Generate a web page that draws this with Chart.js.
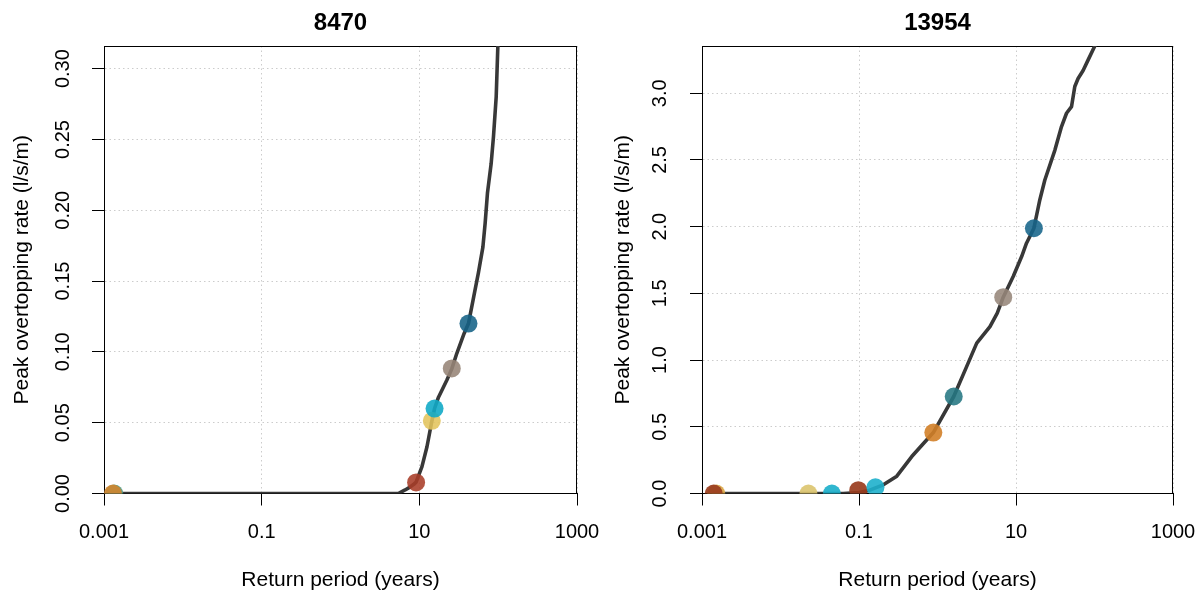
<!DOCTYPE html>
<html>
<head>
<meta charset="utf-8">
<script src="https://cdn.jsdelivr.net/npm/chart.js@4.4.1/dist/chart.umd.min.js"></script>
<style>
  html, body { margin: 0; padding: 0; background: #fff; width: 1203px; height: 597px; overflow: hidden; }
  canvas { position: absolute; top: 0; }
  #c1 { left: 0; }
  #c2 { left: 601px; }
</style>
</head>
<body>
<canvas id="c1" width="601" height="597"></canvas>
<canvas id="c2" width="602" height="597"></canvas>
<script>
// Return period axis (log scale)
const xTicks = [0.001, 0.1, 10, 1000];
const xTickLabels = ['0.001', '0.1', '10', '1000'];

// Site 8470
const title8470 = '8470';
const yTicks8470 = [0, 0.05, 0.10, 0.15, 0.20, 0.25, 0.30];
const curveX8470 = [0.0012, 5.4, 6.6, 7.6, 8.5, 9.1, 10.8, 12.5, 14.4, 15.6, 17.5, 22.3, 25.8, 29.9, 37, 42, 49, 56.2, 64.0, 68.4, 73.1, 81.5, 87.2, 94.4, 99.1, 104];
const curveY8470 = [0, 0, 0.0025, 0.0045, 0.0065, 0.008, 0.019, 0.033, 0.051, 0.060, 0.068, 0.080, 0.088, 0.099, 0.113, 0.120, 0.139, 0.156, 0.174, 0.191, 0.212, 0.233, 0.252, 0.280, 0.316, 0.36];
const eventX8470 = [0.00135, 0.0013, 9.1, 14.4, 15.6, 25.8, 42.0];
const eventY8470 = [0, 0, 0.0078, 0.0513, 0.060, 0.0883, 0.120];

// Site 13954
const title13954 = '13954';
const yTicks13954 = [0, 0.5, 1.0, 1.5, 2.0, 2.5, 3.0];
const curveX13954 = [0.0014, 0.063, 0.1, 0.13, 0.162, 0.204, 0.303, 0.47, 0.885, 1.61, 2.35, 3.16, 4.66, 5.77, 6.88, 9.21, 11.8, 13.6, 16.9, 20.1, 23.3, 31.3, 38.0, 44.0, 51.0, 56.1, 61.8, 71.6, 83.0, 100.9, 115];
const curveY13954 = [0, 0, 0.008, 0.02, 0.042, 0.065, 0.13, 0.277, 0.457, 0.727, 0.951, 1.127, 1.251, 1.352, 1.471, 1.626, 1.776, 1.876, 1.988, 2.20, 2.35, 2.574, 2.75, 2.85, 2.90, 3.05, 3.11, 3.17, 3.25, 3.354, 3.45];
const eventX13954 = [0.00152, 0.00141, 0.0227, 0.0451, 0.098, 0.162, 0.885, 1.61, 6.88, 16.9];
const eventY13954 = [0, 0, 0, 0, 0.025, 0.046, 0.457, 0.727, 1.471, 1.988];

// Event marker colours
const eventColors8470 = [
  'rgba(78,154,132,0.9)', 'rgba(207,133,48,0.92)', 'rgba(168,60,40,0.88)',
  'rgba(226,196,92,0.88)', 'rgba(18,170,198,0.9)', 'rgba(150,132,118,0.88)', 'rgba(20,98,134,0.88)'
];
const eventColors13954 = [
  'rgba(217,165,68,0.9)', 'rgba(154,61,30,0.92)', 'rgba(220,196,110,0.9)', 'rgba(26,174,202,0.9)',
  'rgba(154,61,30,0.92)', 'rgba(30,176,204,0.9)', 'rgba(210,128,40,0.9)', 'rgba(36,118,130,0.88)',
  'rgba(150,134,122,0.88)', 'rgba(22,100,138,0.88)'
];

const FONT = "'Liberation Sans', Arial, Helvetica, sans-serif";

// Closed frame round the plotting region
const framePlugin = {
  id: 'frame',
  beforeDatasetsDraw(chart) {
    const { ctx, chartArea: a } = chart;
    ctx.save();
    ctx.strokeStyle = '#000';
    ctx.lineWidth = 1;
    const l = Math.round(a.left) + 0.5, r = Math.round(a.right) - 0.5;
    const t = Math.round(a.top) + 0.5, b = Math.round(a.bottom) - 0.5;
    ctx.strokeRect(l, t, r - l, b - t);
    ctx.restore();
  }
};

function pairs(xs, ys) { return xs.map((x, i) => ({ x, y: ys[i] })); }

function makePanel(canvasId, cfg) {
  const W = document.getElementById(canvasId).width;
  return new Chart(document.getElementById(canvasId), {
    type: 'scatter',
    data: {
      datasets: [
        {
          data: pairs(cfg.eventX, cfg.eventY),
          pointRadius: 9, pointHoverRadius: 9,
          pointBackgroundColor: cfg.colors,
          pointBorderWidth: 0, borderWidth: 0,
          showLine: false, order: 0, clip: 0
        },
        {
          data: pairs(cfg.curveX, cfg.curveY),
          showLine: true, borderColor: '#383838', borderWidth: 3.6,
          pointRadius: 0, pointHoverRadius: 0, tension: 0,
          borderJoinStyle: 'round', borderCapStyle: 'round',
          order: 1, clip: 0
        }
      ]
    },
    options: {
      responsive: false, animation: false, devicePixelRatio: 1, events: [],
      layout: { padding: { left: 0, top: 0, bottom: 0, right: W - cfg.right } },
      plugins: {
        legend: { display: false },
        tooltip: { enabled: false },
        title: {
          display: true, text: cfg.title, fullSize: false, color: '#000',
          font: { family: FONT, size: 24, weight: 'bold' },
          padding: { top: 8.6, bottom: 8.6 }
        }
      },
      scales: {
        x: {
          type: 'logarithmic', position: 'bottom', min: 0.001, max: 1000,
          afterBuildTicks: s => { s.ticks = xTicks.map(v => ({ value: v })); },
          afterFit: s => { s.height = 103.5; s.paddingLeft = 0; s.paddingRight = 0; },
          ticks: {
            callback: (v, i) => xTickLabels[i], color: '#000',
            font: { family: FONT, size: 20 }, padding: 14.5,
            minRotation: 0, maxRotation: 0, autoSkip: false
          },
          grid: { color: '#cccccc', lineWidth: 1, tickLength: 12, tickColor: '#000', tickWidth: 1 },
          border: { display: true, color: '#000', width: 1, dash: [1.5, 3] },
          title: {
            display: true, text: 'Return period (years)', color: '#000',
            font: { family: FONT, size: 21 }, padding: { top: 0, bottom: 4.4 }
          }
        },
        y: {
          type: 'linear', position: 'left', min: 0, max: cfg.yMax,
          afterBuildTicks: s => { s.ticks = cfg.yTicks.map(v => ({ value: v })); },
          afterFit: s => { s.width = cfg.left; s.paddingTop = 0; s.paddingBottom = 0; },
          ticks: {
            callback: v => v.toFixed(cfg.decimals), color: '#000',
            font: { family: FONT, size: 20 }, padding: cfg.tickPad,
            minRotation: 90, maxRotation: 90, crossAlign: 'center', autoSkip: false
          },
          grid: { color: '#cccccc', lineWidth: 1, tickLength: 12, tickColor: '#000', tickWidth: 1 },
          border: { display: true, color: '#000', width: 1, dash: [1.5, 3] },
          title: {
            display: true, text: 'Peak overtopping rate (l/s/m)', color: '#000',
            font: { family: FONT, size: 21 }, padding: { top: 9.9, bottom: 0 }
          }
        }
      }
    },
    plugins: [framePlugin]
  });
}

makePanel('c1', {
  title: title8470, curveX: curveX8470, curveY: curveY8470,
  eventX: eventX8470, eventY: eventY8470, colors: eventColors8470,
  yTicks: yTicks8470, yMax: 0.316, decimals: 2,
  left: 104, right: 577, tickPad: 9.5
});

makePanel('c2', {
  title: title13954, curveX: curveX13954, curveY: curveY13954,
  eventX: eventX13954, eventY: eventY13954, colors: eventColors13954,
  yTicks: yTicks13954, yMax: 3.354, decimals: 1,
  left: 101, right: 572, tickPad: 15.4
});
</script>
</body>
</html>
